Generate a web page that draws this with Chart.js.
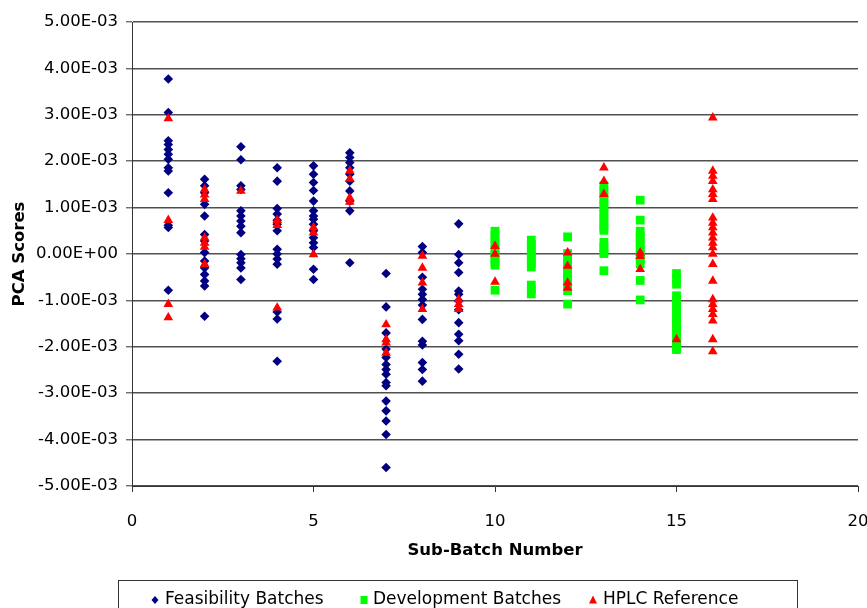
<!DOCTYPE html>
<html>
<head>
<meta charset="utf-8">
<script src="https://cdn.jsdelivr.net/npm/chart.js@4.4.1/dist/chart.umd.min.js"></script>
<style>
  html, body { margin: 0; padding: 0; background: #fff; }
  canvas { display: block; }
</style>
</head>
<body>
<canvas id="c" width="867" height="608"></canvas>
<script>
// ---- Data (PCA scores in units of 1E-03, keyed by sub-batch number) ----
const SCORE_UNIT = 1e-3;
const seriesLabels = ['Feasibility Batches', 'Development Batches', 'HPLC Reference'];
const xTickValues = [0, 5, 10, 15, 20];
const yTickValues = [5, 4, 3, 2, 1, 0, -1, -2, -3, -4, -5];

const feasibilityScores = {
  1: [3.77, 3.05, 2.44, 2.36, 2.25, 2.15, 2.04, 1.86, 1.79, 1.32, 0.62, 0.57, -0.78],
  2: [1.61, 1.47, 1.32, 1.07, 0.82, 0.42, 0.28, 0.03, -0.15, -0.30, -0.44, -0.58, -0.69, -1.34],
  3: [2.31, 2.03, 1.47, 1.39, 0.93, 0.82, 0.71, 0.60, 0.46, -0.01, -0.10, -0.19, -0.30, -0.55],
  4: [1.86, 1.57, 0.98, 0.86, 0.73, 0.64, 0.50, 0.10, 0.00, -0.11, -0.22, -1.25, -1.40, -2.31],
  5: [1.90, 1.72, 1.54, 1.37, 1.14, 0.93, 0.82, 0.75, 0.64, 0.50, 0.35, 0.24, 0.14, -0.33, -0.55],
  6: [2.18, 2.08, 1.97, 1.86, 1.72, 1.57, 1.36, 1.14, 0.93, -0.19],
  7: [-0.42, -1.14, -1.70, -2.05, -2.23, -2.38, -2.49, -2.59, -2.77, -2.84, -3.17, -3.38, -3.60, -3.89, -4.60],
  8: [0.16, 0.03, -0.50, -0.76, -0.87, -0.98, -1.10, -1.41, -1.88, -1.96, -2.34, -2.49, -2.74],
  9: [0.65, -0.01, -0.19, -0.40, -0.80, -0.87, -1.01, -1.20, -1.48, -1.73, -1.87, -2.16, -2.48]
};

const developmentScores = {
  10: [0.49, 0.40, 0.30, 0.20, 0.10, 0.00, -0.10, -0.17, -0.24, -0.78],
  11: [0.30, 0.20, 0.10, 0.00, -0.10, -0.20, -0.28, -0.67, -0.77, -0.86],
  12: [0.37, 0.01, -0.09, -0.19, -0.29, -0.39, -0.49, -0.59, -0.69, -0.79, -1.08],
  13: [1.47, 1.37, 1.27, 1.17, 1.07, 0.97, 0.87, 0.77, 0.67, 0.58, 0.51, 0.25, 0.15, 0.06, 0.01, -0.36],
  14: [1.16, 0.73, 0.49, 0.39, 0.29, 0.19, 0.09, -0.01, -0.11, -0.21, -0.57, -0.99],
  15: [-0.42, -0.54, -0.65, -0.90, -1.00, -1.10, -1.20, -1.30, -1.40, -1.50, -1.60, -1.70, -1.80, -1.90, -2.00, -2.06]
};

const hplcScores = {
  1: [2.92, 0.73, -1.08, -1.37],
  2: [1.39, 1.28, 1.18, 0.35, 0.24, 0.15, -0.22],
  3: [1.36],
  4: [0.73, 0.62, -1.16],
  5: [0.57, 0.46, -0.01],
  6: [1.79, 1.62, 1.21, 1.12],
  7: [-1.52, -1.84, -1.91, -2.13],
  8: [-0.04, -0.30, -0.62, -1.19],
  9: [-0.98, -1.08, -1.19],
  10: [0.17, 0.00, -0.60],
  12: [0.03, -0.26, -0.62, -0.73],
  13: [1.86, 1.57, 1.29],
  14: [0.03, -0.05, -0.33],
  15: [-1.84],
  16: [2.94, 1.79, 1.68, 1.57, 1.39, 1.29, 1.18, 0.78, 0.67, 0.57, 0.46, 0.35, 0.24, 0.14, 0.00,
       -0.22, -0.58, -0.98, -1.08, -1.19, -1.30, -1.44, -1.84, -2.10]
};

// ---- Build chart data ----
function toPoints(table) {
  const pts = [];
  Object.keys(table).forEach(function (b) {
    table[b].forEach(function (v) { pts.push({ x: Number(b), y: v * SCORE_UNIT }); });
  });
  return pts;
}

const COLORS = { feas: '#000080', dev: '#00ff00', hplc: '#ff0000' };
const FONT = "'DejaVu Sans', 'Liberation Sans', Arial, sans-serif";

function sciLabel(v) {
  if (Math.abs(v) < 1e-12) return '0.00E+00';
  const s = v.toExponential(2);
  const parts = s.split('e');
  let exp = parseInt(parts[1], 10);
  const sign = exp < 0 ? '-' : '+';
  exp = Math.abs(exp);
  return parts[0] + 'E' + sign + (exp < 10 ? '0' : '') + exp;
}

// Legend with a frame, drawn by a plugin (layout constants only)
const framedLegend = {
  id: 'framedLegend',
  afterDraw(chart) {
    const ctx = chart.ctx;
    ctx.save();
    ctx.strokeStyle = '#333';
    ctx.lineWidth = 1;
    ctx.strokeRect(118.5, 580.5, 679, 40);
    const cy = 600;
    const items = [
      { mx: 155, tx: 165, style: 'diamond', color: COLORS.feas },
      { mx: 364, tx: 373, style: 'square', color: COLORS.dev },
      { mx: 593, tx: 603, style: 'triangle', color: COLORS.hplc }
    ];
    ctx.font = "17px " + FONT;
    ctx.textBaseline = 'middle';
    ctx.textAlign = 'left';
    items.forEach(function (it, i) {
      ctx.fillStyle = it.color;
      ctx.beginPath();
      if (it.style === 'diamond') {
        ctx.moveTo(it.mx, cy - 4); ctx.lineTo(it.mx + 3.5, cy);
        ctx.lineTo(it.mx, cy + 4); ctx.lineTo(it.mx - 3.5, cy);
      } else if (it.style === 'square') {
        ctx.rect(it.mx - 3.5, cy - 4, 7, 8);
      } else {
        ctx.moveTo(it.mx, cy - 4.5); ctx.lineTo(it.mx + 4, cy + 3.5); ctx.lineTo(it.mx - 4, cy + 3.5);
      }
      ctx.closePath();
      ctx.fill();
      ctx.fillStyle = '#000';
      ctx.fillText(chart.data.datasets[i].label, it.tx, cy);
    });
    ctx.restore();
  }
};

new Chart(document.getElementById('c'), {
  type: 'scatter',
  data: {
    datasets: [
      {
        label: seriesLabels[0],
        data: toPoints(feasibilityScores),
        pointStyle: 'rectRot',
        pointRadius: 4.8,
        pointHoverRadius: 4.8,
        backgroundColor: COLORS.feas,
        borderColor: COLORS.feas,
        pointBorderWidth: 0,
        order: 3
      },
      {
        label: seriesLabels[1],
        data: toPoints(developmentScores),
        pointStyle: 'rect',
        pointRadius: 6.2,
        pointHoverRadius: 6.2,
        backgroundColor: COLORS.dev,
        borderColor: COLORS.dev,
        pointBorderWidth: 0,
        order: 2
      },
      {
        label: seriesLabels[2],
        data: toPoints(hplcScores),
        pointStyle: 'triangle',
        pointRadius: 5.6,
        pointHoverRadius: 5.6,
        backgroundColor: COLORS.hplc,
        borderColor: COLORS.hplc,
        pointBorderWidth: 0,
        order: 1
      }
    ]
  },
  options: {
    responsive: false,
    animation: false,
    events: [],
    layout: { padding: { top: 22, right: 9, left: 0, bottom: 0 } },
    plugins: {
      legend: { display: false },
      tooltip: { enabled: false }
    },
    scales: {
      x: {
        type: 'linear',
        min: xTickValues[0],
        max: xTickValues[xTickValues.length - 1],
        afterBuildTicks(scale) { scale.ticks = xTickValues.map(function (v) { return { value: v }; }); },
        afterFit(scale) { scale.height = 122; scale.paddingLeft = 0; scale.paddingRight = 0; },
        grid: { drawOnChartArea: false, drawTicks: true, tickLength: 6, tickColor: '#333', tickWidth: 1 },
        border: { display: true, color: '#333', width: 1 },
        ticks: {
          padding: 20,
          color: '#000',
          font: { family: FONT, size: 16.5 },
          maxRotation: 0,
          autoSkip: false
        },
        title: {
          display: true,
          text: 'Sub-Batch Number',
          color: '#000',
          font: { family: FONT, size: 16.5, weight: 'bold' },
          padding: { top: 0, bottom: 47 }
        }
      },
      y: {
        type: 'linear',
        min: yTickValues[yTickValues.length - 1] * SCORE_UNIT,
        max: yTickValues[0] * SCORE_UNIT,
        afterBuildTicks(scale) { scale.ticks = yTickValues.map(function (v) { return { value: v * SCORE_UNIT }; }); },
        afterFit(scale) { scale.width = 132; scale.paddingTop = 0; scale.paddingBottom = 0; },
        grid: { color: '#505050', lineWidth: 1.6, drawTicks: true, tickLength: 6, tickColor: '#333', tickWidth: 1 },
        border: { display: true, color: '#333', width: 1 },
        ticks: {
          padding: 8,
          color: '#000',
          font: { family: FONT, size: 16.5 },
          autoSkip: false,
          callback: function (v) { return sciLabel(v); }
        },
        title: {
          display: true,
          text: 'PCA Scores',
          color: '#000',
          font: { family: FONT, size: 16.5, weight: 'bold' },
          padding: { top: 10, bottom: 0 }
        }
      }
    }
  },
  plugins: [framedLegend]
});
</script>
</body>
</html>
